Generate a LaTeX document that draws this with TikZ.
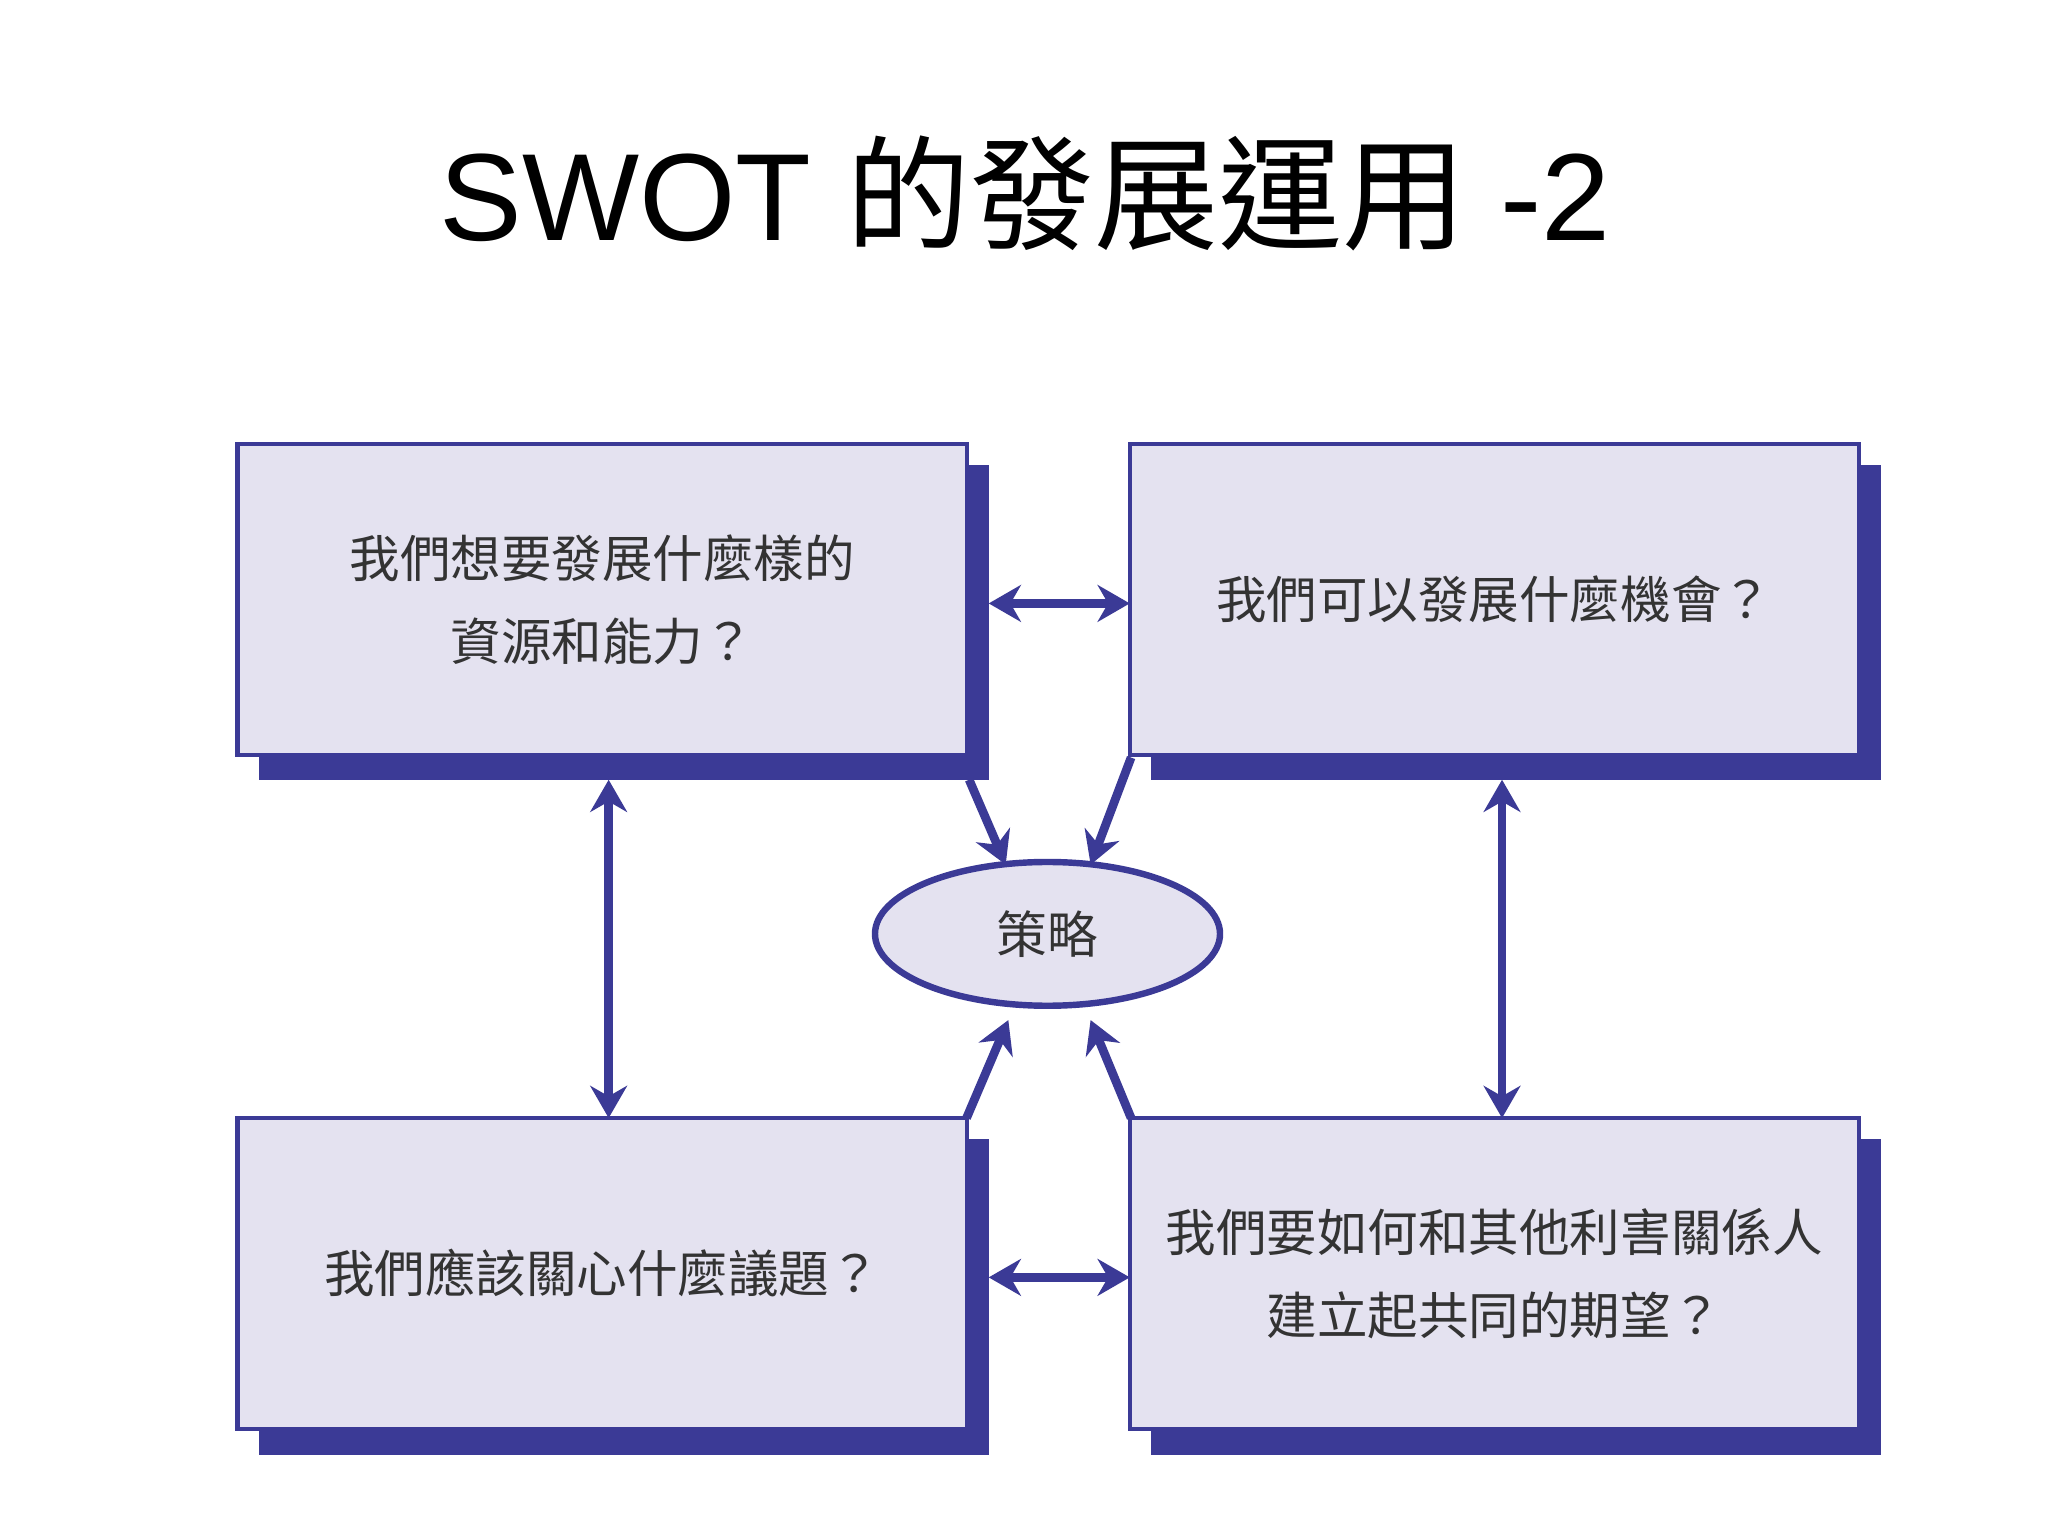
\documentclass[tikz,border=0pt]{standalone}
\usepackage{fontspec}
\setmainfont{Liberation Sans}
\newfontfamily\cjk{Noto Sans CJK TC}
\usetikzlibrary{arrows.meta,shapes.geometric}
\definecolor{bd}{HTML}{3B3A96}
\definecolor{bf}{HTML}{E4E2F0}
\definecolor{tx}{HTML}{333333}
\tikzset{
 box/.style={draw=bd,line width=0.9pt,fill=bf,minimum width=5.58cm,minimum height=2.38cm,text width=5.4cm,inner sep=0pt,align=center,text=tx,font=\cjk\fontsize{11}{18}\selectfont},
 shad/.style={fill=bd},
 arr/.style={draw=bd,line width=1.9pt,-{Stealth[length=7pt,width=8pt]}},
 darr/.style={draw=bd,line width=1.9pt,{Stealth[length=7pt,width=8pt]}-{Stealth[length=7pt,width=8pt]}}
}
\begin{document}
\begin{tikzpicture}[x=0.01cm,y=-0.01cm]
\fill[white] (0,0) rectangle (1568,1176);
\node[font=\fontsize{27}{32}\selectfont] (title) at (785,148) {SWOT {\cjk 的發展運用} -2};
% shadows
\fill[shad] (198,356) rectangle (757,597);
\fill[shad] (881,356) rectangle (1440,597);
\fill[shad] (198,872) rectangle (757,1114);
\fill[shad] (881,872) rectangle (1440,1114);
\node[box] (tl) at (461,459) {我們想要發展什麼樣的\\資源和能力？};
\node[box] (tr) at (1144,459) {我們可以發展什麼機會？\\[4pt]};
\node[box] (bl) at (461,975) {我們應該關心什麼議題？\\[4pt]};
\node[box] (br) at (1144,975) {我們要如何和其他利害關係人\\建立起共同的期望？};
\node[ellipse,draw=bd,line width=1.4pt,fill=bf,minimum width=2.64cm,minimum height=1.1cm,text=tx,font=\cjk\fontsize{11}{14}\selectfont] (st) at (802,715) {策略};
\coordinate (a1) at (757,462); \coordinate (a2) at (865,462);
\coordinate (b1) at (757,978); \coordinate (b2) at (865,978);
\coordinate (c1) at (466,597); \coordinate (c2) at (466,856);
\coordinate (d1) at (1150,597); \coordinate (d2) at (1150,856);
\draw[darr] (a1) -- (a2);
\draw[darr] (b1) -- (b2);
\draw[darr] (c1) -- (c2);
\draw[darr] (d1) -- (d2);
\coordinate (e1) at (742,597); \coordinate (e2) at (770,662);
\coordinate (f1) at (866,580); \coordinate (f2) at (835,662);
\coordinate (g1) at (740,856); \coordinate (g2) at (772,781);
\coordinate (h1) at (866,856); \coordinate (h2) at (835,781);
\draw[arr] (e1) -- (e2);
\draw[arr] (f1) -- (f2);
\draw[arr] (g1) -- (g2);
\draw[arr] (h1) -- (h2);
\end{tikzpicture}
\end{document}
